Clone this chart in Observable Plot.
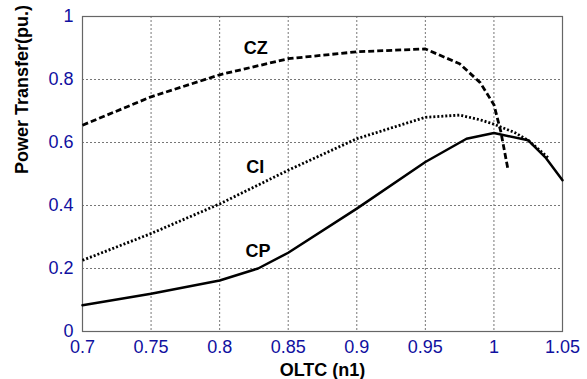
<!DOCTYPE html>
<html><head><meta charset="utf-8">
<script src="https://cdn.jsdelivr.net/npm/d3@7"></script>
<script src="https://cdn.jsdelivr.net/npm/@observablehq/plot@0.6"></script>
<style>body{margin:0;background:#fff}</style>
</head><body><div id="chart"></div>
<script>
const xTicks = [0.7, 0.75, 0.8, 0.85, 0.9, 0.95, 1, 1.05];
const yTicks = [0, 0.2, 0.4, 0.6, 0.8, 1];

const oltcCZ  = [0.7, 0.75, 0.8, 0.85, 0.9, 0.95, 0.975, 0.99, 1.0, 1.005, 1.01];
const powerCZ = [0.655, 0.745, 0.815, 0.866, 0.888, 0.897, 0.85, 0.79, 0.72, 0.635, 0.52];

const oltcCI  = [0.7, 0.75, 0.8, 0.85, 0.9, 0.95, 0.975, 0.99, 1.0, 1.015, 1.025, 1.04];
const powerCI = [0.226, 0.311, 0.405, 0.512, 0.612, 0.68, 0.687, 0.672, 0.658, 0.632, 0.607, 0.55];

const oltcCP  = [0.7, 0.75, 0.8, 0.828, 0.85, 0.9, 0.95, 0.98, 1.0, 1.025, 1.0375, 1.05];
const powerCP = [0.083, 0.12, 0.162, 0.2, 0.25, 0.39, 0.538, 0.612, 0.63, 0.607, 0.553, 0.48];

const seriesNames = ["CZ", "CI", "CP"];
const labelX = [0.8263, 0.826, 0.828];
const labelY = [0.899, 0.52, 0.255];

const toRows = (xs, ys) => xs.map((x, i) => ({x, y: ys[i]}));
const cz = toRows(oltcCZ, powerCZ);
const ci = toRows(oltcCI, powerCI);
const cp = toRows(oltcCP, powerCP);
const labels = seriesNames.map((s, i) => ({s, x: labelX[i], y: labelY[i]}));

const blue = "#1010a0";
const fmt = d => String(d);

const chart = Plot.plot({
  width: 587,
  height: 379,
  marginLeft: 82,
  marginRight: 25,
  marginTop: 16,
  marginBottom: 48,
  style: {fontFamily: "Liberation Sans, Arial, sans-serif", background: "#fff"},
  x: {domain: [0.7, 1.05]},
  y: {domain: [0, 1]},
  marks: [
    Plot.gridX(xTicks, {stroke: "#777", strokeOpacity: 1, strokeDasharray: "2,2"}),
    Plot.gridY(yTicks, {stroke: "#777", strokeOpacity: 1, strokeDasharray: "2,2"}),
    Plot.frame({stroke: "#666", strokeWidth: 1.2}),
    Plot.axisX(xTicks, {tickSize: 0, tickPadding: 9, fontSize: 18, fill: blue, tickFormat: fmt, label: null}),
    Plot.axisY(yTicks, {tickSize: 0, tickPadding: 9, fontSize: 18, fill: blue, tickFormat: fmt, label: null}),
    Plot.line(cz, {x: "x", y: "y", stroke: "#000", strokeWidth: 2.8, strokeLinecap: "butt", strokeLinejoin: "miter", strokeDasharray: "6,3"}),
    Plot.line(ci, {x: "x", y: "y", stroke: "#000", strokeWidth: 2.8, strokeLinecap: "butt", strokeLinejoin: "miter", strokeDasharray: "2,2"}),
    Plot.line(cp, {x: "x", y: "y", stroke: "#000", strokeWidth: 2.5}),
    Plot.text(labels, {x: "x", y: "y", text: "s", fontSize: 18, fontWeight: "bold", fill: "#000"}),
    Plot.text(["OLTC (n1)"], {frameAnchor: "bottom", lineAnchor: "middle", dy: 39, fontSize: 18, fontWeight: "bold", fill: "#000"}),
    Plot.text(["Power Transfer(pu.)"], {frameAnchor: "left", lineAnchor: "middle", dx: -60, rotate: -90, fontSize: 18, fontWeight: "bold", fill: "#000"})
  ]
});
document.getElementById("chart").appendChild(chart);
</script>
</body></html>
